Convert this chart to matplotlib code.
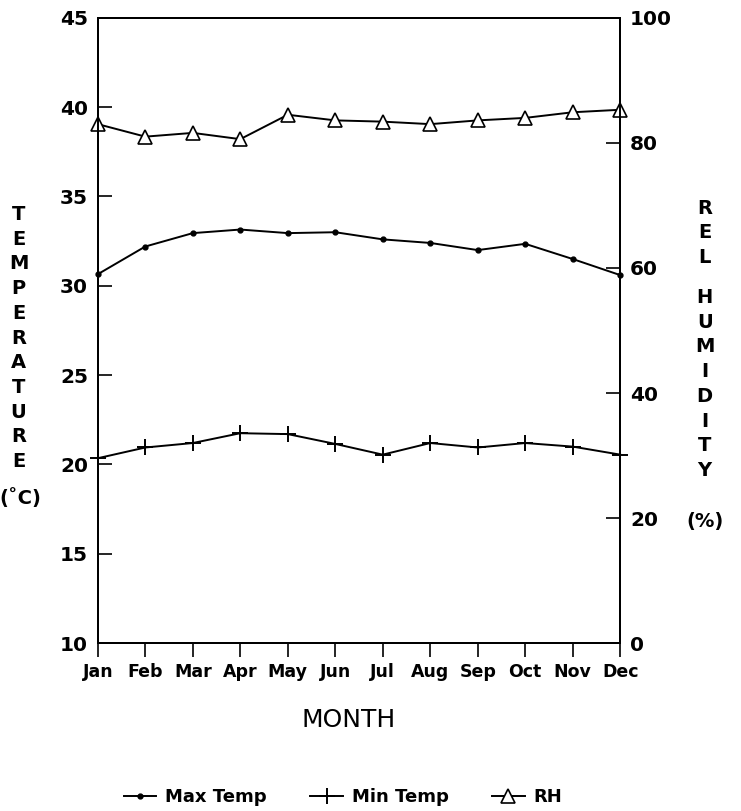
import numpy as np
import matplotlib.pyplot as plt

plt.rcParams['font.family'] = 'DejaVu Sans'

months = ["Jan", "Feb", "Mar", "Apr", "May", "Jun",
          "Jul", "Aug", "Sep", "Oct", "Nov", "Dec"]
max_temp = [30.65, 32.2, 32.95, 33.15, 32.95, 33.0,
            32.6, 32.4, 32.0, 32.35, 31.5, 30.6]
min_temp = [20.35, 20.95, 21.2, 21.75, 21.7, 21.15,
            20.55, 21.2, 20.95, 21.2, 21.0, 20.55]
rel_hum = [83.0, 81.0, 81.6, 80.6, 84.5, 83.6,
           83.4, 83.0, 83.6, 84.0, 84.9, 85.3]

x = np.arange(len(months))

fig = plt.figure(figsize=(7.41, 8.11), dpi=100)
ax = fig.add_axes([0.132, 0.207, 0.705, 0.771])
ax2 = ax.twinx()

l1, = ax.plot(x, max_temp, color="k", lw=1.4, marker="o", ms=3.5,
              label="Max Temp", clip_on=False)
l2, = ax.plot(x, min_temp, color="k", lw=1.4, marker="+", ms=11, mew=1.4,
              label="Min Temp", clip_on=False)
l3, = ax2.plot(x, rel_hum, color="k", lw=1.4, marker="^", ms=10,
               mfc="white", mew=1.2, label="RH", clip_on=False)

ax.set_xlim(0, 11)
ax.set_ylim(10, 45)
ax2.set_ylim(0, 100)
ax.set_xticks(x)
ax.set_xticklabels(months, fontsize=12.5, fontweight="bold")
ax.set_yticks(range(10, 46, 5))
ax.set_yticklabels([str(v) for v in range(10, 46, 5)], fontsize=14.5, fontweight="bold")
ax2.set_yticks(range(0, 101, 20))
ax2.set_yticklabels([str(v) for v in range(0, 101, 20)], fontsize=14.5, fontweight="bold")

ax.tick_params(axis="y", direction="in", length=10, width=1.2, pad=7)
ax.tick_params(axis="x", direction="out", length=10, width=1.2, pad=4)
ax2.tick_params(axis="y", direction="in", length=10, width=1.2, pad=7)
for a in (ax, ax2):
    for s in a.spines.values():
        s.set_linewidth(1.4)

ax.set_xlabel("MONTH", fontsize=18, labelpad=20)
ax.xaxis.label.set_x(0.48)

# stacked axis titles
kw = dict(ha="center", va="center", fontsize=14, fontweight="bold",
          linespacing=1.38, multialignment="center")
fig.text(0.025, 1 - 338 / 811, "T\nE\nM\nP\nE\nR\nA\nT\nU\nR\nE", **kw)
fig.text(0.028, 1 - 498 / 811, "(\u02daC)", **kw)
fig.text(0.951, 1 - 233 / 811, "R\nE\nL", **kw)
fig.text(0.951, 1 - 384 / 811, "H\nU\nM\nI\nD\nI\nT\nY", **kw)
fig.text(0.951, 1 - 522 / 811, "(%)", **kw)

fig.legend(handles=[l1, l2, l3], loc="center", ncol=3, frameon=False,
           bbox_to_anchor=(0.463, 1 - 797 / 811), handlelength=1.8,
           handletextpad=0.5, columnspacing=2.4,
           prop={"weight": "bold", "size": 13})

fig.savefig("out.png", dpi=100)
